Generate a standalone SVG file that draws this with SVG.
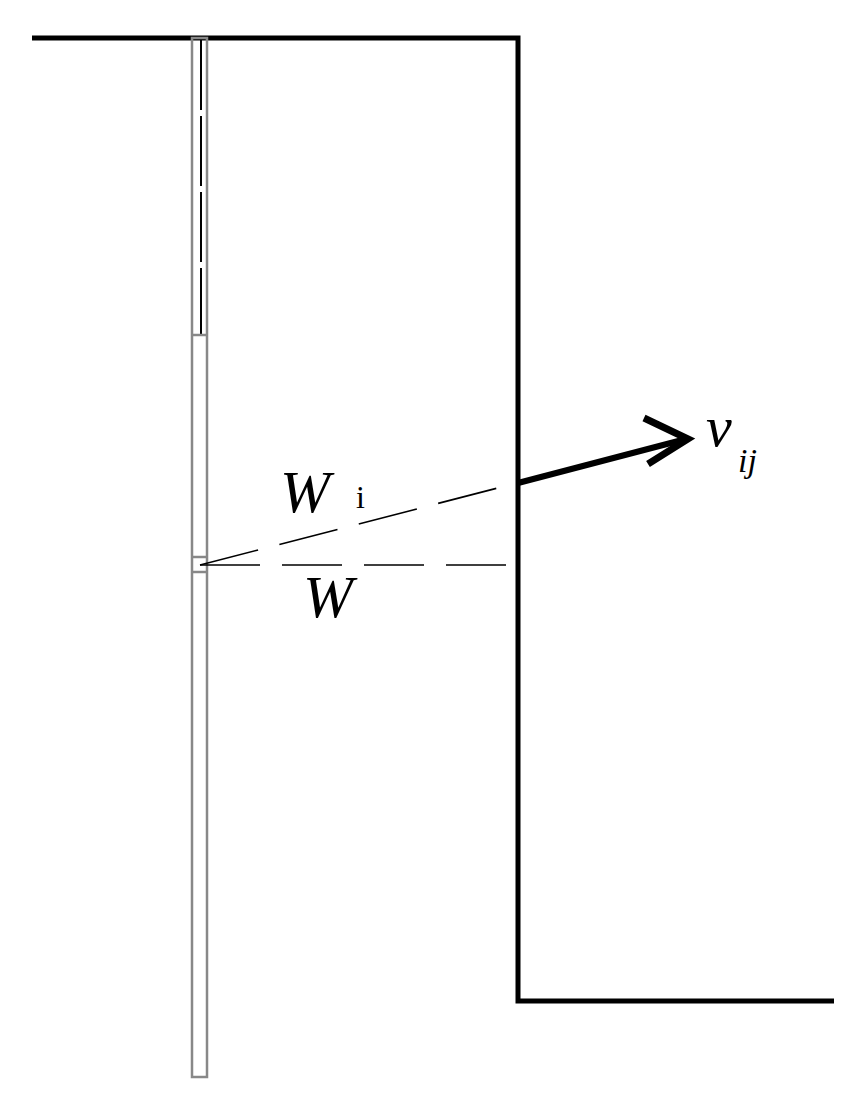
<svg xmlns="http://www.w3.org/2000/svg" width="859" height="1108" viewBox="0 0 859 1108">
<style>
.thick{stroke:#000;stroke-width:5;fill:none}
.tube{stroke:#888;stroke-width:2.5;fill:none}
.dash{stroke:#000;stroke-width:1.6;fill:none;stroke-dasharray:60 22}
.lbl{font-family:"Liberation Serif",serif;font-style:italic;fill:#000}
</style>
<rect width="859" height="1108" fill="#fff"/>
<g id="ground">
<polyline class="thick" points="32,38 518,38 518,1001 834,1001"/>
</g>
<g id="tube">
<rect class="tube" x="192" y="38" width="15" height="1039"/>
<line x1="201" y1="40" x2="201" y2="335" stroke="#000" stroke-width="2" stroke-dasharray="70 6"/>
<line class="tube" x1="192" y1="335" x2="207" y2="335"/>
<line class="tube" x1="192" y1="557" x2="207" y2="557"/>
<line class="tube" x1="192" y1="572" x2="207" y2="572"/>
</g>
<g id="connectors">
<line class="dash" x1="200" y1="565" x2="517" y2="483"/>
<line class="dash" x1="200" y1="565" x2="517" y2="565"/>
<line x1="518" y1="483" x2="686" y2="439" stroke="#000" stroke-width="6"/>
<polyline points="644,418 688,439 648,464" fill="none" stroke="#000" stroke-width="7" stroke-linejoin="miter"/>
</g>
<g id="labels">
<text class="lbl" x="280" y="512" font-size="60">W</text>
<text x="356" y="508" font-size="32" font-family="Liberation Serif,serif">i</text>
<text class="lbl" x="303" y="617" font-size="60">W</text>
<text class="lbl" x="706" y="446" font-size="58">v</text>
<text class="lbl" x="738" y="472" font-size="34">ij</text>
</g>
</svg>
